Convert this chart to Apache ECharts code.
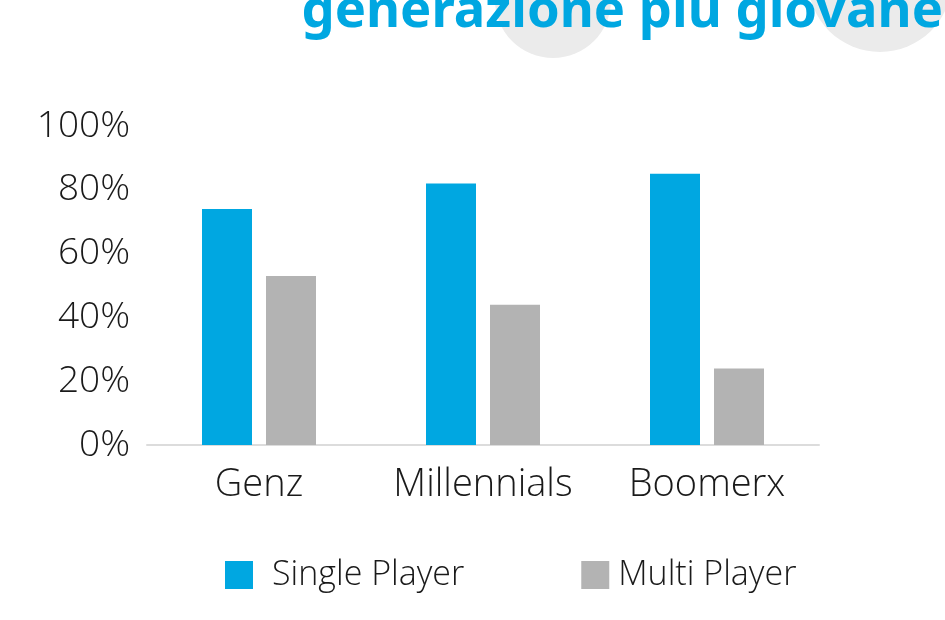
<!DOCTYPE html>
<html>
<head>
<meta charset="utf-8">
<script src="https://cdn.jsdelivr.net/npm/echarts@6/dist/echarts.min.js"></script>
<style>
  html, body { margin: 0; padding: 0; background: #fff; }
  #chart { width: 945px; height: 620px; }
</style>
</head>
<body>
<div id="chart"></div>
<script>
// data
const categories = ['Genz', 'Millennials', 'Boomerx']
const singlePlayer = [74, 82, 85]
const multiPlayer = [53, 44, 24]
const yTicks = [0, 20, 40, 60, 80, 100]

const chart = echarts.init(document.getElementById('chart'))
const font = '"Open Sans", "Noto Sans", sans-serif'

chart.setOption({
  animation: false,
  title: {
    text: 'generazione piu giovane',
    right: 2,
    top: -14,
    padding: 0,
    z: 10,
    textStyle: {
      color: '#00a7e1',
      fontSize: 52.5,
      fontWeight: 'bold',
      fontFamily: '"Noto Sans", sans-serif'
    }
  },
  // decorative grey circles behind the title
  graphic: [
    { type: 'circle', shape: { cx: 553, cy: 0, r: 58 }, style: { fill: '#ebebeb' }, z: -1 },
    { type: 'circle', shape: { cx: 880, cy: -20, r: 72 }, style: { fill: '#ebebeb' }, z: -1 }
  ],
  legend: {
    left: 220,
    top: 553,
    icon: 'rect',
    itemWidth: 28,
    itemHeight: 28,
    itemGap: 117,
    textStyle: { fontSize: 34, fontWeight: 300, color: '#1a1a1a', fontFamily: font },
    data: [
      { name: 'Single Player', textStyle: { padding: [0, 0, 0, 14] } },
      { name: 'Multi Player', textStyle: { padding: [0, 0, 0, 4] } }
    ]
  },
  grid: {
    left: 147,
    right: 126,
    top: 126,
    bottom: 175
  },
  xAxis: {
    type: 'category',
    data: categories,
    axisTick: { show: false },
    axisLine: { lineStyle: { color: '#dcdcdc', width: 2 } },
    axisLabel: {
      interval: 0,
      hideOverlap: false,
      fontSize: 38,
      fontWeight: 300,
      color: '#1a1a1a',
      margin: 21,
      fontFamily: font
    }
  },
  yAxis: {
    type: 'value',
    min: yTicks[0],
    max: yTicks[yTicks.length - 1],
    interval: 20,
    splitLine: { show: false },
    axisLine: { show: false },
    axisTick: { show: false },
    axisLabel: {
      fontSize: 37,
      fontWeight: 300,
      color: '#1a1a1a',
      margin: 17,
      fontFamily: font,
      formatter: '{value}%'
    }
  },
  series: [
    {
      name: 'Single Player',
      type: 'bar',
      barWidth: 50,
      barGap: '28%',
      itemStyle: { color: '#00a7e1' },
      data: singlePlayer
    },
    {
      name: 'Multi Player',
      type: 'bar',
      barWidth: 50,
      itemStyle: { color: '#b3b3b3' },
      data: multiPlayer
    }
  ]
})
</script>
</body>
</html>
